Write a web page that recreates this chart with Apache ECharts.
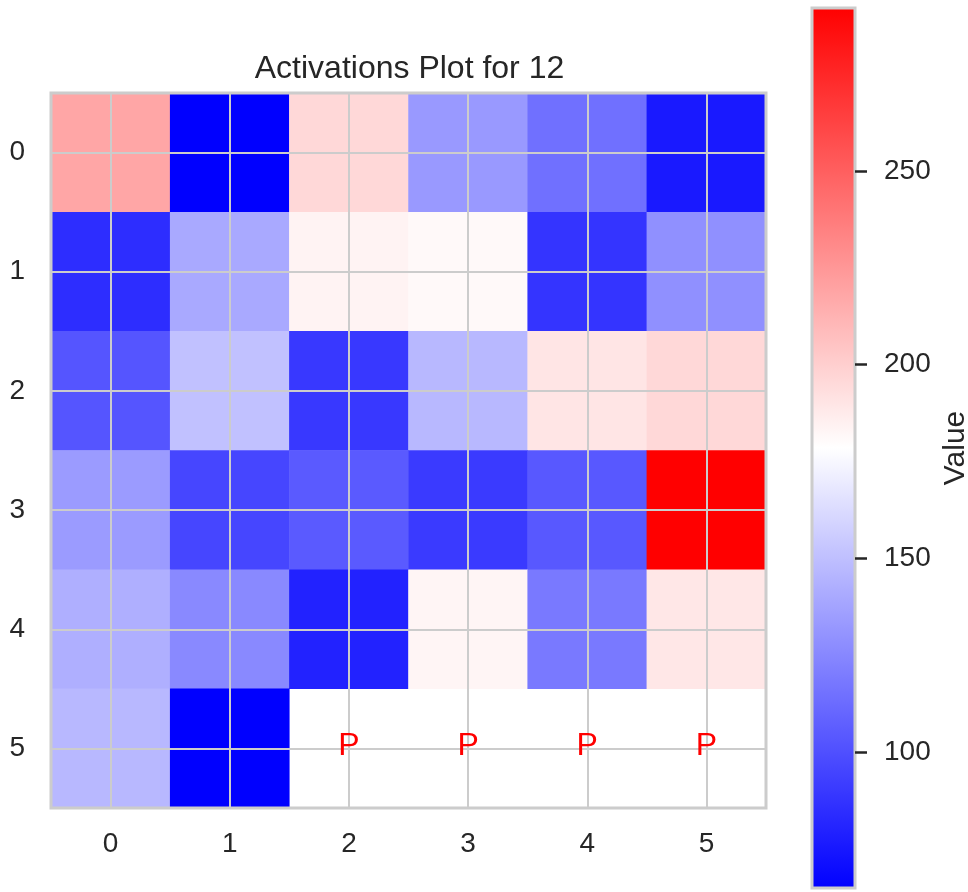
<!DOCTYPE html>
<html>
<head>
<meta charset="utf-8">
<script src="https://cdn.jsdelivr.net/npm/echarts@6/dist/echarts.min.js"></script>
<style>
html,body{margin:0;padding:0;background:#fff;}
#chart{width:968px;height:892px;}
</style>
</head>
<body>
<div id="chart"></div>
<script>
// ---- data ----
const xCategories = ['0', '1', '2', '3', '4', '5'];
const yCategories = ['0', '1', '2', '3', '4', '5'];
const row0 = [218, 65, 196, 133, 115, 76];
const row1 = [85, 140, 184, 181, 88, 129];
const row2 = [103, 151, 90, 147, 190, 196];
const row3 = [134, 96, 105, 91, 104, 292];
const row4 = [143, 126, 80, 183, 119, 189];
const row5 = [147, 65, null, null, null, null];
const maskedCells = [[2, 5], [3, 5], [4, 5], [5, 5]];
const maskLabel = 'P';
const colorbarTicks = [100, 150, 200, 250];
const valueMin = 65;
const valueMax = 292;
const titleText = 'Activations Plot for 12';
const colorbarName = 'Value';

const rows = [row0, row1, row2, row3, row4, row5];
const heatData = [];
rows.forEach((r, yi) => r.forEach((v, xi) => { if (v !== null) heatData.push([xi, yi, v]); }));

const FONT = "'Liberation Sans', Arial, sans-serif";
const TXT = '#262626';
const GRIDC = '#cccccc';
const cmap = ['#0000ff', '#ffffff', '#ff0000'];

// layout
const L = 51, T = 93, W = 715, H = 715;
const cell = W / 6;
const five = ['', '', '', '', ''];
const hiddenCat = {type: 'category', data: five, show: false};

const chart = echarts.init(document.getElementById('chart'), null, {renderer: 'canvas'});
chart.setOption({
  animation: false,
  backgroundColor: '#ffffff',
  textStyle: {fontFamily: FONT},
  title: {
    text: titleText,
    left: L + W / 2 + 1,
    top: 53,
    padding: 0,
    textAlign: 'center',
    textStyle: {fontFamily: FONT, fontSize: 32, fontWeight: 'normal', color: TXT}
  },
  grid: [
    {left: L, top: T, width: W, height: H, show: true, borderColor: GRIDC, borderWidth: 3, backgroundColor: 'transparent', z: 8, outerBoundsMode: 'none'},
    {left: L + cell / 2, top: T, width: W - cell, height: H, show: false, outerBoundsMode: 'none'},
    {left: L, top: T + cell / 2, width: W, height: H - cell, show: false, outerBoundsMode: 'none'},
    {left: 812, top: 8, width: 43, height: 880, show: true, borderColor: GRIDC, borderWidth: 3, z: 8, outerBoundsMode: 'none',
     backgroundColor: {type: 'linear', x: 0, y: 0, x2: 0, y2: 1,
       colorStops: [{offset: 0, color: cmap[2]}, {offset: 0.5, color: cmap[1]}, {offset: 1, color: cmap[0]}]}}
  ],
  xAxis: [
    {gridIndex: 0, type: 'category', data: xCategories, position: 'bottom',
     axisLine: {show: false}, axisTick: {show: false}, splitLine: {show: false},
     axisLabel: {fontSize: 28, color: TXT, margin: 22, fontFamily: FONT}},
    {gridIndex: 1, type: 'category', data: five, z: 5,
     axisLine: {show: false}, axisTick: {show: false}, axisLabel: {show: false},
     splitLine: {show: true, lineStyle: {color: GRIDC, width: 2}}},
    Object.assign({gridIndex: 2}, hiddenCat),
    {gridIndex: 3, type: 'value', show: false, min: 0, max: 1}
  ],
  yAxis: [
    {gridIndex: 0, type: 'category', data: yCategories, inverse: true,
     axisLine: {show: false}, axisTick: {show: false}, splitLine: {show: false},
     axisLabel: {fontSize: 28, color: TXT, margin: 26, fontFamily: FONT}},
    Object.assign({gridIndex: 1}, hiddenCat),
    {gridIndex: 2, type: 'category', data: five, z: 5,
     axisLine: {show: false}, axisTick: {show: false}, axisLabel: {show: false},
     splitLine: {show: true, lineStyle: {color: GRIDC, width: 2}}},
    {gridIndex: 3, type: 'value', position: 'right', min: valueMin, max: valueMax, z: 9,
     axisLine: {show: false, onZero: false}, splitLine: {show: false},
     axisTick: {show: true, length: 12, customValues: colorbarTicks, lineStyle: {color: TXT, width: 2.5}},
     axisLabel: {show: true, customValues: colorbarTicks, fontSize: 28, color: TXT, margin: 29, fontFamily: FONT},
     name: colorbarName, nameLocation: 'middle', nameRotate: 90, nameGap: 86,
     nameTextStyle: {fontSize: 30, color: TXT, fontFamily: FONT}}
  ],
  visualMap: {
    type: 'continuous',
    show: false,
    min: valueMin, max: valueMax,
    seriesIndex: 0,
    inRange: {color: cmap}
  },
  series: [
    {type: 'heatmap', xAxisIndex: 0, yAxisIndex: 0, data: heatData, z: 2,
     itemStyle: {borderWidth: 0}, emphasis: {disabled: true}},
    {type: 'scatter', xAxisIndex: 0, yAxisIndex: 0, data: maskedCells, z: 10,
     symbolSize: 1, itemStyle: {color: GRIDC, opacity: 1},
     label: {show: true, position: 'inside', formatter: maskLabel, color: '#ff0000', opacity: 1, fontSize: 32, fontFamily: FONT, offset: [0, -2]},
     emphasis: {disabled: true}}
  ]
});
</script>
</body>
</html>
